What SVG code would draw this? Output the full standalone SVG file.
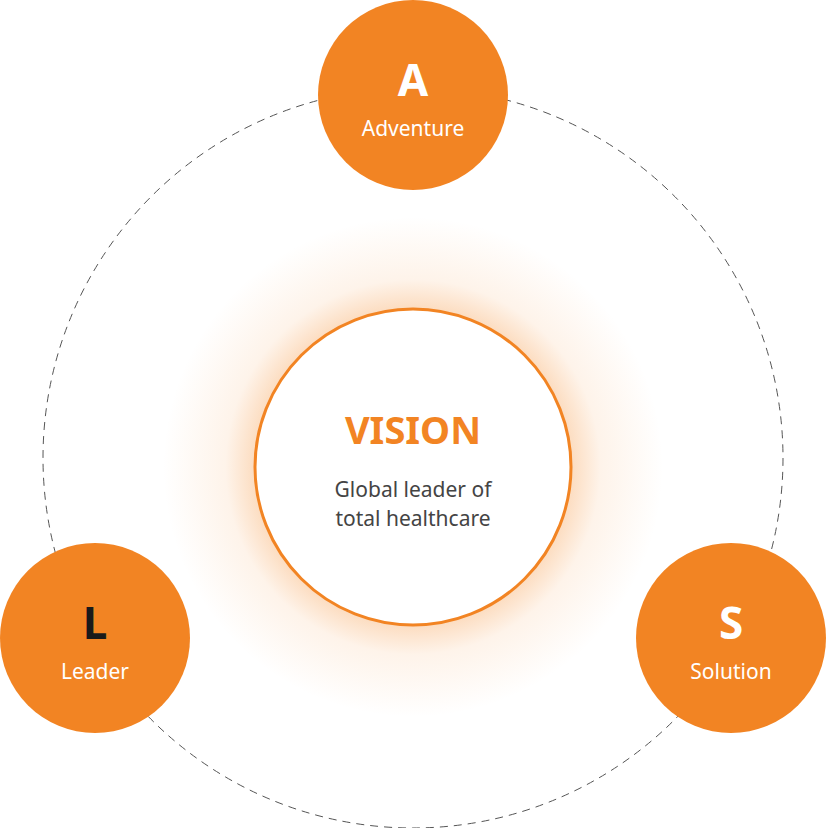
<svg xmlns="http://www.w3.org/2000/svg" width="826" height="828" viewBox="0 0 826 828">
<defs>
<radialGradient id="glow" cx="413" cy="467" r="250" gradientUnits="userSpaceOnUse">
<stop offset="0.6" stop-color="#F58A2A" stop-opacity="0.35"/>
<stop offset="0.75" stop-color="#F58A2A" stop-opacity="0.1"/>
<stop offset="1" stop-color="#F58A2A" stop-opacity="0"/>
</radialGradient>
<style>
.node{fill:#F28423}
.letter{font-family:"Noto Sans","Open Sans",sans-serif;font-size:44px;font-weight:bold;fill:#fff;text-anchor:middle}
.lbl{font-family:"Noto Sans","Open Sans",sans-serif;font-size:21px;fill:#fff;text-anchor:middle}
</style>
</defs>
<rect width="826" height="828" fill="#fff"/>
<g id="connectors">
<circle cx="413" cy="458" r="370" fill="none" stroke="#555" stroke-width="1" stroke-dasharray="8 6"/>
</g>
<g id="vision">
<circle cx="413" cy="467" r="250" fill="url(#glow)"/>
<circle cx="413" cy="467" r="158" fill="#fff" stroke="#F28423" stroke-width="3"/>
<text x="413" y="444" font-family="Noto Sans,Open Sans,sans-serif" font-size="38" font-weight="bold" fill="#F28423" text-anchor="middle">VISION</text>
<text x="413" y="497" font-family="Noto Sans,Open Sans,sans-serif" font-size="21" fill="#444" text-anchor="middle">Global leader of</text>
<text x="413" y="526" font-family="Noto Sans,Open Sans,sans-serif" font-size="21" fill="#444" text-anchor="middle">total healthcare</text>
</g>
<g id="adventure">
<circle class="node" cx="413" cy="95" r="95"/>
<text class="letter" x="413" y="96">A</text>
<text class="lbl" x="413" y="136">Adventure</text>
</g>
<g id="leader">
<circle class="node" cx="95" cy="638" r="95"/>
<text class="letter" x="95" y="639" style="fill:#1a1a1a">L</text>
<text class="lbl" x="95" y="679">Leader</text>
</g>
<g id="solution">
<circle class="node" cx="731" cy="638" r="95"/>
<text class="letter" x="731" y="639">S</text>
<text class="lbl" x="731" y="679">Solution</text>
</g>
</svg>
